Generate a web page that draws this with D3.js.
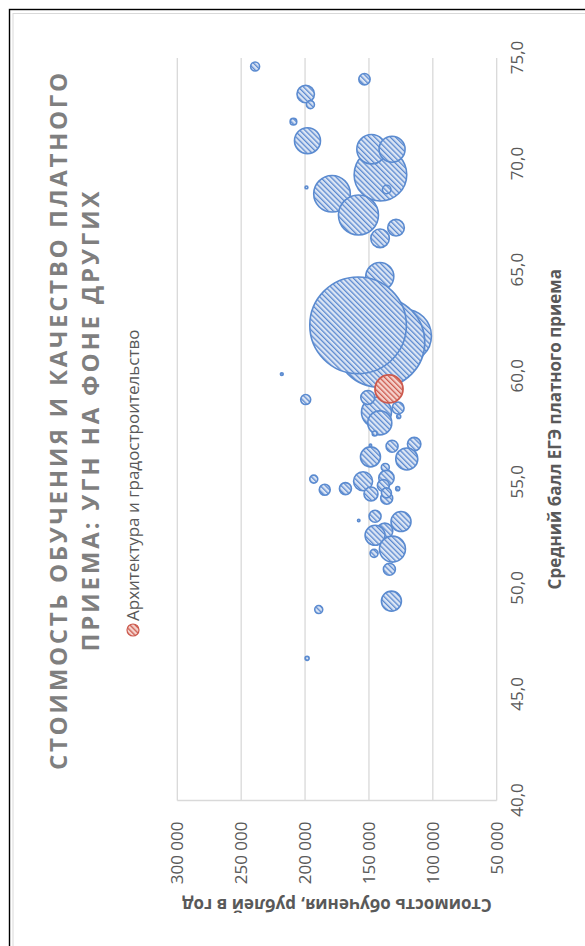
<!DOCTYPE html>
<html><head><meta charset="utf-8">
<script src="https://cdn.jsdelivr.net/npm/d3@7"></script>
<style>html,body{margin:0;padding:0;background:#fff;overflow:hidden} svg{display:block}</style>
</head><body>
<script>
// ---- data ----
const titleLines = ["СТОИМОСТЬ ОБУЧЕНИЯ И КАЧЕСТВО ПЛАТНОГО", "ПРИЕМА: УГН НА ФОНЕ ДРУГИХ"];
const xAxisTitle = "Средний балл ЕГЭ платного приема";
const yAxisTitle = "Стоимость обучения, рублей в год";
const legendLabel = "Архитектура и градостроительство";
const xTicks = [40, 45, 50, 55, 60, 65, 70, 75];
const yTicks = [50000, 100000, 150000, 200000, 250000, 300000];

// other study fields (УГН): average paid-admission EGE score, cost per year, bubble size (drawn in this order)
const otherScore = [74.6, 74.0, 73.3, 72.8, 72.0, 71.1, 69.5, 70.7, 70.7, 68.8, 68.9, 68.6, 67.6, 67.0, 66.5, 64.7,
  61.9, 61.6, 62.4, 60.1, 58.9, 58.3, 57.8, 58.5, 58.1, 57.3, 56.75, 56.2, 56.7, 56.8, 56.1, 55.7, 55.2, 55.05, 55.15,
  54.65, 54.7, 54.45, 54.85, 54.25, 54.5, 54.7, 53.2, 53.4, 53.15, 52.7, 52.5, 51.85, 51.65, 50.9, 49.4, 49.0, 46.7, 59.0];
const otherCost = [239100, 153500, 199500, 195800, 209100, 198100, 141000, 148000, 131900, 136100, 198900, 178900, 158200, 128800, 141300, 141500,
  122000, 141500, 158500, 218200, 199500, 144100, 141500, 127200, 126700, 145500, 148800, 148800, 131900, 114600, 120400, 137200, 136300, 154600, 193200,
  184600, 168400, 148400, 138700, 136100, 136300, 127500, 158000, 145200, 124900, 137600, 145200, 131600, 146000, 134000, 132400, 189300, 198400, 150900];
const otherSize = [20, 32, 76, 16, 11, 169, 692, 216, 169, 18, 2, 335, 400, 69, 86, 196,
  713, 2025, 2333, 2, 25, 225, 144, 36, 4, 6, 1, 100, 36, 45, 121, 16, 59, 90, 16,
  30, 36, 49, 36, 36, 25, 4, 1, 36, 100, 64, 100, 169, 16, 36, 100, 16, 4, 49];

// highlighted field
const focusScore = [59.4];
const focusCost = [134300];
const focusSize = [196];

// ---- layout (chart drawn unrotated, then turned -90deg) ----
const W = 946;
const FONT = "'Open Sans', 'Noto Sans', sans-serif";
const TXT = "#595959";

const svg = d3.select("body").append("svg").attr("width", 585).attr("height", 946);

// outer frames
svg.append("rect").attr("x", 9.5).attr("y", 9.5).attr("width", 700).attr("height", 1000)
  .attr("fill", "none").attr("stroke", "#000").attr("stroke-width", 1.4);
svg.append("rect").attr("x", 13).attr("y", 13.5).attr("width", 700).attr("height", 1000)
  .attr("fill", "none").attr("stroke", "#d9d9d9").attr("stroke-width", 1);

const defs = svg.append("defs");
function hatch(id, bg, fg) {
  const p = defs.append("pattern").attr("id", id).attr("patternUnits", "userSpaceOnUse")
    .attr("width", 3.7).attr("height", 3.7).attr("patternTransform", "rotate(-45)");
  p.append("rect").attr("width", 3.7).attr("height", 3.7).attr("fill", bg);
  p.append("rect").attr("width", 3.7).attr("height", 1.3).attr("fill", fg);
}
hatch("hBlue", "#dbe5f4", "#5a88cf");
hatch("hRed", "#f5d2cc", "#cc5a4e");

const g = svg.append("g").attr("transform", `translate(0,${W}) rotate(-90)`);

const x = d3.scaleLinear().domain([40, 75]).range([145.5, 888]);
const y = d3.scaleLinear().domain([50000, 300000]).range([496.7, 177.3]);
const allSizes = otherSize.concat(focusSize);
const r = d3.scaleSqrt().domain([0, d3.max(allSizes)]).range([0, 48.3]);

// gridlines
g.append("g").selectAll("line").data(yTicks).join("line")
  .attr("x1", x(40)).attr("x2", x(75)).attr("y1", d => y(d)).attr("y2", d => y(d))
  .attr("stroke", "#d9d9d9").attr("stroke-width", 1.3);
// value axis line
g.append("line").attr("x1", x(40)).attr("x2", x(40)).attr("y1", y(300000)).attr("y2", y(50000))
  .attr("stroke", "#d9d9d9").attr("stroke-width", 1.3);

// axes labels via d3 axes
const fmtY = d => d3.format(",")(d).replace(/,/g, " ");
const fmtX = d => d3.format(".1f")(d).replace(".", ",");
const yAxis = g.append("g").attr("transform", `translate(${x(40) - 21},0)`)
  .call(d3.axisLeft(y).tickValues(yTicks).tickFormat(fmtY).tickSize(0).tickPadding(0));
const xAxis = g.append("g").attr("transform", `translate(0,${y(50000) + 14})`)
  .call(d3.axisBottom(x).tickValues(xTicks).tickFormat(fmtX).tickSize(0).tickPadding(0));
[yAxis, xAxis].forEach(a => {
  a.select(".domain").remove();
  a.selectAll("text").attr("font-family", FONT).attr("font-size", 17).attr("fill", TXT);
});
xAxis.selectAll("text").attr("dy", "0.71em");

// bubbles (data order)
const others = otherScore.map((s, i) => ({ s, c: otherCost[i], z: otherSize[i] }));
g.append("g").selectAll("circle").data(others).join("circle")
  .attr("cx", d => x(d.s)).attr("cy", d => y(d.c)).attr("r", d => Math.max(r(d.z), 1.2))
  .attr("fill", "url(#hBlue)").attr("stroke", "#5b8bd0").attr("stroke-width", 1.6);
const focus = focusScore.map((s, i) => ({ s, c: focusCost[i], z: focusSize[i] }));
g.append("g").selectAll("circle").data(focus).join("circle")
  .attr("cx", d => x(d.s)).attr("cy", d => y(d.c)).attr("r", d => r(d.z))
  .attr("fill", "url(#hRed)").attr("stroke", "#cc5a4e").attr("stroke-width", 1.8);

// title
const titleCx = 524.5;
g.append("g").selectAll("text").data(titleLines).join("text")
  .attr("x", titleCx).attr("y", (d, i) => 66.5 + i * 32)
  .attr("text-anchor", "middle").attr("font-family", FONT).attr("font-weight", 700)
  .attr("font-size", 24).attr("fill", "#7f7f7f")
  .attr("textLength", (d, i) => [697, 460][i]).attr("lengthAdjust", "spacing")
  .text(d => d);

// legend
g.append("circle").attr("cx", 316).attr("cy", 133).attr("r", 6)
  .attr("fill", "url(#hRed)").attr("stroke", "#cc5a4e").attr("stroke-width", 1.2);
g.append("text").attr("x", 325).attr("y", 133).attr("dy", "0.35em")
  .attr("font-family", FONT).attr("font-size", 17).attr("fill", TXT).text(legendLabel);

// axis titles
g.append("text").attr("x", (x(40) + x(75)) / 2).attr("y", 555).attr("dy", "0.35em")
  .attr("text-anchor", "middle").attr("font-family", FONT).attr("font-weight", 700)
  .attr("font-size", 17).attr("fill", TXT).text(xAxisTitle);
g.append("text").attr("transform", `translate(41,${(y(50000) + y(300000)) / 2}) rotate(-90)`)
  .attr("dy", "0.35em").attr("text-anchor", "middle").attr("font-family", FONT).attr("font-weight", 700)
  .attr("font-size", 17).attr("fill", TXT).text(yAxisTitle);
</script>
</body></html>
